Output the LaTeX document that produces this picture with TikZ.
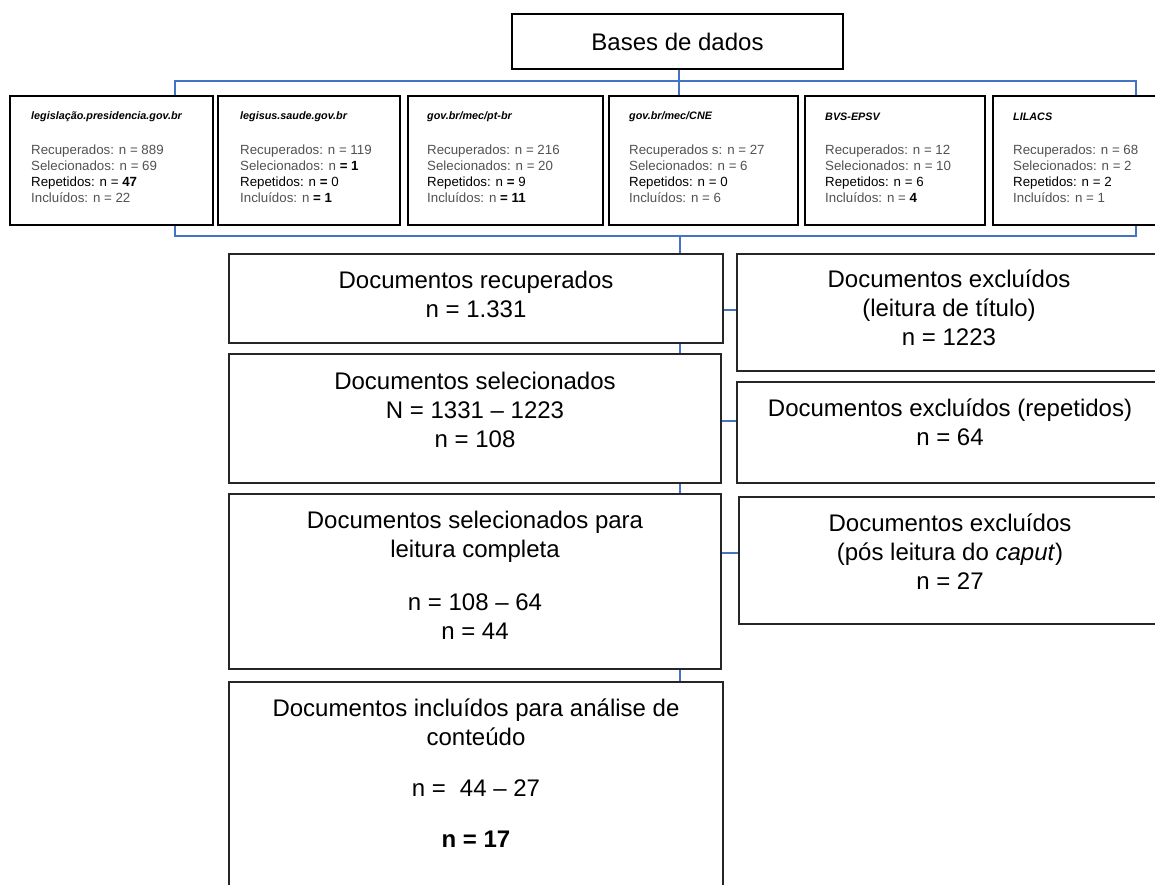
\documentclass[tikz,border=0pt]{standalone}
\usepackage{fontspec}
\setmainfont{Liberation Sans}
\usetikzlibrary{calc,backgrounds}
\definecolor{conncol}{HTML}{4472C4}
\newcommand\fmain{\fontsize{24}{29}\selectfont}
\newcommand\fdb{\fontsize{13.3}{16}\selectfont}
\newcommand\fhead{\fontsize{10.8}{13}\selectfont\bfseries\itshape}
\newcommand\dk[1]{\textcolor{black}{#1}}
\begin{document}
\begin{tikzpicture}[x=1pt,y=-1pt,
  dbbox/.style={draw=black, line width=2.6pt, fill=white, inner sep=0pt},
  mainbox/.style={draw=black!85, line width=2pt, fill=white, inner sep=0pt},
  conn/.style={draw=conncol, line width=1.8pt},
  maintext/.style={font=\fmain, align=center, inner sep=0pt},
  dbtext/.style={font=\fdb, align=left, anchor=west, inner sep=0pt, text=black!68},
  headtext/.style={font=\fhead, anchor=west, inner sep=0pt}]

\useasboundingbox (0,0) rectangle (1155,884);
\clip (0,0) rectangle (1155,884);

% top box
\node[dbbox, minimum width=331, minimum height=55, font=\fmain] (bases) at (677.5,41.5) {Bases de dados};

% database boxes
\node[dbbox, minimum width=203, minimum height=129] (db1) at (111.5,160.5) {};
\node[dbbox, minimum width=182, minimum height=129] (db2) at (309,160.5) {};
\node[dbbox, minimum width=195, minimum height=129] (db3) at (505.5,160.5) {};
\node[dbbox, minimum width=189, minimum height=129] (db4) at (703.5,160.5) {};
\node[dbbox, minimum width=180, minimum height=129] (db5) at (895,160.5) {};
\node[dbbox, minimum width=167, minimum height=129] (db6) at (1076.5,160.5) {};

\node[headtext] (h1) at (31,117) {legislação.presidencia.gov.br};
\node[dbtext] (t1) at (31,174) {Recuperados: n = 889\\Selecionados: n = 69\\\dk{Repetidos: n = \textbf{47}}\\Incluídos: n = 22};
\node[headtext] (h2) at (240,117) {legisus.saude.gov.br};
\node[dbtext] (t2) at (240,174) {Recuperados: n = 119\\Selecionados: n \dk{\textbf{= 1}}\\\dk{Repetidos: n \textbf{=} 0}\\Incluídos: n \dk{\textbf{= 1}}};
\node[headtext] (h3) at (427,117) {gov.br/mec/pt-br};
\node[dbtext] (t3) at (427,174) {Recuperados: n = 216\\Selecionados: n = 20\\\dk{Repetidos: n \textbf{=} 9}\\Incluídos: n \dk{\textbf{= 11}}};
\node[headtext] (h4) at (629,117) {gov.br/mec/CNE};
\node[dbtext] (t4) at (629,174) {Recuperados s: n = 27\\Selecionados: n = 6\\\dk{Repetidos: n = 0}\\Incluídos: n = 6};
\node[headtext] (h5) at (825,117) {BVS-EPSV};
\node[dbtext] (t5) at (825,174) {Recuperados: n = 12\\Selecionados: n = 10\\\dk{Repetidos: n = 6}\\Incluídos: n = \dk{\textbf{4}}};
\node[headtext] (h6) at (1013,117) {LILACS};
\node[dbtext] (t6) at (1013,174) {Recuperados: n = 68\\Selecionados: n = 2\\\dk{Repetidos: n = 2}\\Incluídos: n = 1};

% main column
\node[mainbox, minimum width=494, minimum height=89] (rec) at (476,298.5) {};
\node[mainbox, minimum width=492, minimum height=129] (sel) at (475,418.5) {};
\node[mainbox, minimum width=492, minimum height=175] (lei) at (475,581.5) {};
\node[mainbox, minimum width=494, minimum height=213] (inc) at (476,788.5) {};

\node[maintext] (rect) at (476,294) {Documentos recuperados\\n = 1.331};
\node[maintext] (selt) at (475,410) {Documentos selecionados\\N = 1331 – 1223\\n = 108};
\node[maintext] (leit) at (475,575) {Documentos selecionados para\\leitura completa\\[24pt]n = 108 – 64\\n = 44};
\node[maintext] (inct) at (476,773.5) {Documentos incluídos para análise de\\conteúdo\\[22pt]n =\hspace{14pt}44 – 27\\[22pt]\textbf{n = 17}};

% right column
\node[mainbox, minimum width=423, minimum height=117] (tit) at (948.5,312.5) {};
\node[mainbox, minimum width=423, minimum height=101] (rep) at (948.5,432.5) {};
\node[mainbox, minimum width=421, minimum height=127] (cap) at (949.5,560.5) {};

\node[maintext] (titt) at (949,308) {Documentos excluídos\\(leitura de título)\\n = 1223};
\node[maintext] (rept) at (950,422) {Documentos excluídos (repetidos)\\n = 64};
\node[maintext] (capt) at (950,552) {Documentos excluídos\\(pós leitura do \textit{caput})\\n = 27};

% connectors
\coordinate (bx) at (679,81);
\coordinate (tl) at (175,81);
\coordinate (tr) at (1136,81);
\coordinate (bl) at (175,236);
\coordinate (br) at (1136,236);
\coordinate (mx) at (680,236);
\coordinate (k1) at (730,310);
\coordinate (k2) at (730,421);
\coordinate (k3) at (730,553);
\begin{scope}[on background layer]
\draw[conn] (bases.south -| bx) -- (bx |- db4.north);
\draw[conn] (tl |- db1.north) -- (tl) -- (tr) -- (tr |- db6.north);
\draw[conn] (bl |- db1.south) -- (bl) -- (br) -- (br |- db6.south);
\draw[conn] (mx) -- (mx |- rec.north);
\draw[conn] (mx |- rec.south) -- (mx |- sel.north);
\draw[conn] (mx |- sel.south) -- (mx |- lei.north);
\draw[conn] (mx |- lei.south) -- (mx |- inc.north);
\draw[conn] (rec.east |- k1) -- (tit.west |- k1);
\draw[conn] (sel.east |- k2) -- (rep.west |- k2);
\draw[conn] (lei.east |- k3) -- (cap.west |- k3);
\end{scope}
\end{tikzpicture}
\end{document}
